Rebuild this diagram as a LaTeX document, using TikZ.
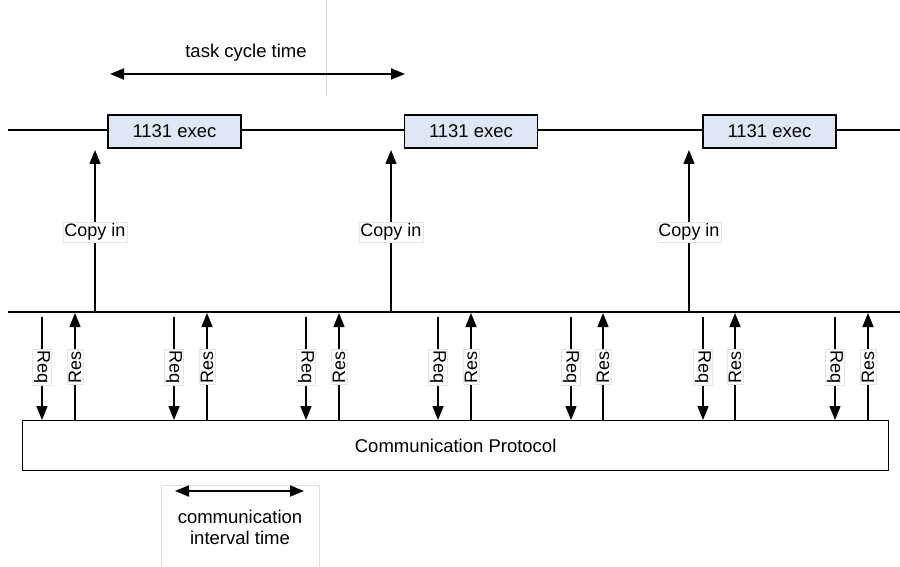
\documentclass[tikz,border=0pt]{standalone}
\usepackage{fontspec}
\setmainfont{Liberation Sans}
\usetikzlibrary{arrows.meta}
\begin{document}
\begin{tikzpicture}[x=1pt,y=-1pt,
  thickline/.style={line width=2.8pt},
  execbox/.style={draw, line width=1.2pt, fill={rgb,255:red,222;green,231;blue,243}, minimum width=133pt, minimum height=33pt, inner sep=0pt, font=\fontsize{18.5}{21}\selectfont},
  arr/.style={line width=1.4pt, -{Triangle[length=14pt,width=11pt]}},
  darr/.style={line width=1.8pt, {Triangle[length=14pt,width=11pt]}-{Triangle[length=14pt,width=11pt]}},
  lbl/.style={fill=white, draw=black!10, inner sep=1.5pt, font=\fontsize{18}{20}\selectfont},
  txt/.style={font=\fontsize{18.5}{21}\selectfont}]
\useasboundingbox (0,0) rectangle (900,567);
% faint guide lines
\draw[black!15, line width=0.8pt] (326,0) -- (326,96);
\draw[black!12, line width=0.8pt] (161,567) -- (161,485) -- (319,485) -- (319,567);
% top timeline
\coordinate (tl) at (8,130);
\coordinate (tr) at (900,130);
\draw[thickline] (tl) -- (tr);
\node[execbox] (e1) at (174.5,131.5) {1131 exec};
\node[execbox] (e2) at (471,131.5) {1131 exec};
\node[execbox] (e3) at (769.5,131.5) {1131 exec};
% task cycle time
\coordinate (tc1) at (110,74);
\coordinate (tc2) at (405,74);
\draw[darr] (tc1) -- (tc2);
\node[txt] (tct) at (246,53) {task cycle time};
% bus
\coordinate (bl) at (8,312);
\coordinate (br) at (900,312);
\draw[thickline] (bl) -- (br);
% copy in arrows
\foreach \x [count=\i] in {95,391,689} {
  \coordinate (cb\i) at (\x,312);
  \coordinate (ct\i) at (\x,150);
  \draw[arr] (cb\i) -- (ct\i);
  \node[lbl] (ci\i) at (\x,232) {Copy in};
}
% protocol box
\node[draw, line width=1.3pt, minimum width=866pt, minimum height=50pt, inner sep=0pt, anchor=north west, font=\fontsize{18.5}{21}\selectfont] (cp) at (22,420) {Communication Protocol};
% req/res
\foreach \x [count=\i] in {42,174,306,438,571,703,835} {
  \coordinate (rqa\i) at (\x,317);
  \coordinate (rqb\i) at (\x,420);
  \draw[arr] (rqa\i) -- (rqb\i);
  \node[lbl, rotate=-90] (rq\i) at (\x,367) {Req};
}
\foreach \x [count=\i] in {75,207,339,471,603,735,868} {
  \coordinate (rsa\i) at (\x,420);
  \coordinate (rsb\i) at (\x,313);
  \draw[arr] (rsa\i) -- (rsb\i);
  \node[lbl, rotate=90] (rs\i) at (\x,367) {Res};
}
% communication interval time
\coordinate (ci1) at (175,491);
\coordinate (ci2) at (304,491);
\draw[darr] (ci1) -- (ci2);
\node[txt, align=center] (cit) at (240,527) {communication\\interval time};
\end{tikzpicture}
\end{document}
